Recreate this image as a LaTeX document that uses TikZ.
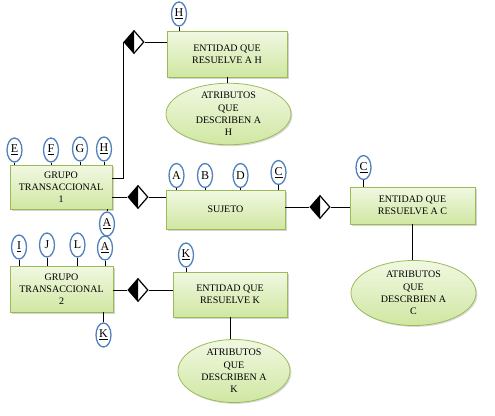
\documentclass[tikz,border=0pt]{standalone}
\usepackage{fontspec}
\setmainfont{Liberation Serif}
\usetikzlibrary{shapes.geometric,shadows}
\definecolor{boxborder}{HTML}{9BBB59}
\definecolor{boxtop}{HTML}{F1F8E2}
\definecolor{boxbot}{HTML}{D0E7A2}
\definecolor{ovalblue}{HTML}{4F81BD}
\tikzset{
  entbox/.style={rectangle, draw=boxborder, line width=0.8pt, top color=boxtop, bottom color=boxbot,
    drop shadow={shadow xshift=1.6pt, shadow yshift=-1.6pt, opacity=0.35},
    align=center, inner sep=0pt, font=\fontsize{10}{12}\selectfont},
  attell/.style={ellipse, draw=boxborder, line width=0.8pt, top color=boxtop, bottom color=boxbot,
    drop shadow={shadow xshift=1.4pt, shadow yshift=-1.4pt, opacity=0.3},
    align=center, inner sep=0pt, font=\fontsize{10}{12.3}\selectfont},
  keyoval/.style={ellipse, draw=ovalblue, line width=1.3pt, fill=white, inner sep=0pt,
    minimum width=15pt, minimum height=24pt, font=\fontsize{12}{12}\selectfont},
  reldia/.style={diamond, draw=black, line width=1.2pt, fill=white, inner sep=0pt,
    minimum width=20pt, minimum height=23pt,
    path picture={\fill[black] (path picture bounding box.north) -- (path picture bounding box.west)
      -- (path picture bounding box.south) -- cycle;}},
  conn/.style={draw=black, line width=1pt}
}
\begin{document}
\begin{tikzpicture}[x=1pt,y=-1pt]
\useasboundingbox (0,0) rectangle (495,415);
% entity boxes
\node[entbox, minimum width=120pt, minimum height=46pt] (eH) at (227,54) {ENTIDAD QUE\\RESUELVE A H};
\node[entbox, minimum width=102pt, minimum height=44pt] (gt1) at (61,187) {GRUPO\\TRANSACCIONAL\\1};
\node[entbox, minimum width=119pt, minimum height=39pt] (suj) at (225.5,209.5) {SUJETO};
\node[entbox, minimum width=125pt, minimum height=37pt] (eC) at (412.5,205.5) {ENTIDAD QUE\\RESUELVE A C};
\node[entbox, minimum width=103pt, minimum height=46pt] (gt2) at (61.5,289) {GRUPO\\TRANSACCIONAL\\2};
\node[entbox, minimum width=114pt, minimum height=45pt] (eK) at (230,294.5) {ENTIDAD QUE\\RESUELVE K};
% attribute ellipses
\node[attell, minimum width=125pt, minimum height=58pt] (aH) at (228.5,114) {ATRIBUTOS\\QUE\\DESCRIBEN A\\H};
\node[attell, minimum width=125pt, minimum height=65pt] (aC) at (413.5,293) {ATRIBUTOS\\QUE\\DESCRBIEN A\\C};
\node[attell, minimum width=112pt, minimum height=63pt] (aK) at (234,371) {ATRIBUTOS\\QUE\\DESCRIBEN A\\K};
% diamonds
\node[reldia] (dH) at (134,42) {};
\node[reldia] (dM) at (138,197) {};
\node[reldia] (dC) at (320,207) {};
\node[reldia] (dK) at (138,290) {};
% key ovals
\node[keyoval] (oH1) at (179,14) {\underline{H}};
\node[keyoval] (oE) at (14.5,150) {\underline{E}};
\node[keyoval] (oF) at (51,150) {\underline{F}};
\node[keyoval] (oG) at (80,149) {G};
\node[keyoval] (oH2) at (104,149) {\underline{H}};
\node[keyoval] (oA1) at (107,224) {\underline{A}};
\node[keyoval] (oA2) at (176.5,175.5) {A};
\node[keyoval] (oB) at (205,175.5) {B};
\node[keyoval] (oD) at (240.5,175.5) {D};
\node[keyoval] (oC1) at (278.5,172.5) {\underline{C}};
\node[keyoval] (oC2) at (363.5,167.5) {\underline{C}};
\node[keyoval] (oI) at (19,247) {\underline{I}};
\node[keyoval] (oJ) at (47,245) {J};
\node[keyoval] (oL) at (77.5,245) {L};
\node[keyoval] (oA3) at (105,248) {\underline{A}};
\node[keyoval] (oK1) at (103.5,335) {\underline{K}};
\node[keyoval] (oK2) at (186,255) {\underline{K}};
% oval connectors
\foreach \o/\b in {oH1/eH, oE/gt1, oF/gt1, oG/gt1, oH2/gt1, oA2/suj, oB/suj, oD/suj, oC1/suj, oC2/eC, oI/gt2, oJ/gt2, oL/gt2, oA3/gt2, oK2/eK}
  \draw[conn] (\o.south) -- (\o.south |- \b.north);
\draw[conn] (oA1.north) -- (oA1.north |- gt1.south);
\draw[conn] (oK1.north) -- (oK1.north |- gt2.south);
% relationships
\draw[conn] ([yshift=9pt]gt1.east) -| (dH.west);
\draw[conn] (dH.east) -- (dH.east -| eH.west);
\draw[conn] (eH.south) -- (eH.south |- aH.north);
\draw[conn] (dM.west -| gt1.east) -- (dM.west);
\draw[conn] (dM.east) -- (dM.east -| suj.west);
\draw[conn] (dC.west -| suj.east) -- (dC.west);
\draw[conn] (dC.east) -- (dC.east -| eC.west);
\draw[conn] (eC.south) -- (eC.south |- aC.north);
\draw[conn] (dK.west -| gt2.east) -- (dK.west);
\draw[conn] (dK.east) -- (dK.east -| eK.west);
\draw[conn] (eK.south) -- (eK.south |- aK.north);
\end{tikzpicture}
\end{document}
